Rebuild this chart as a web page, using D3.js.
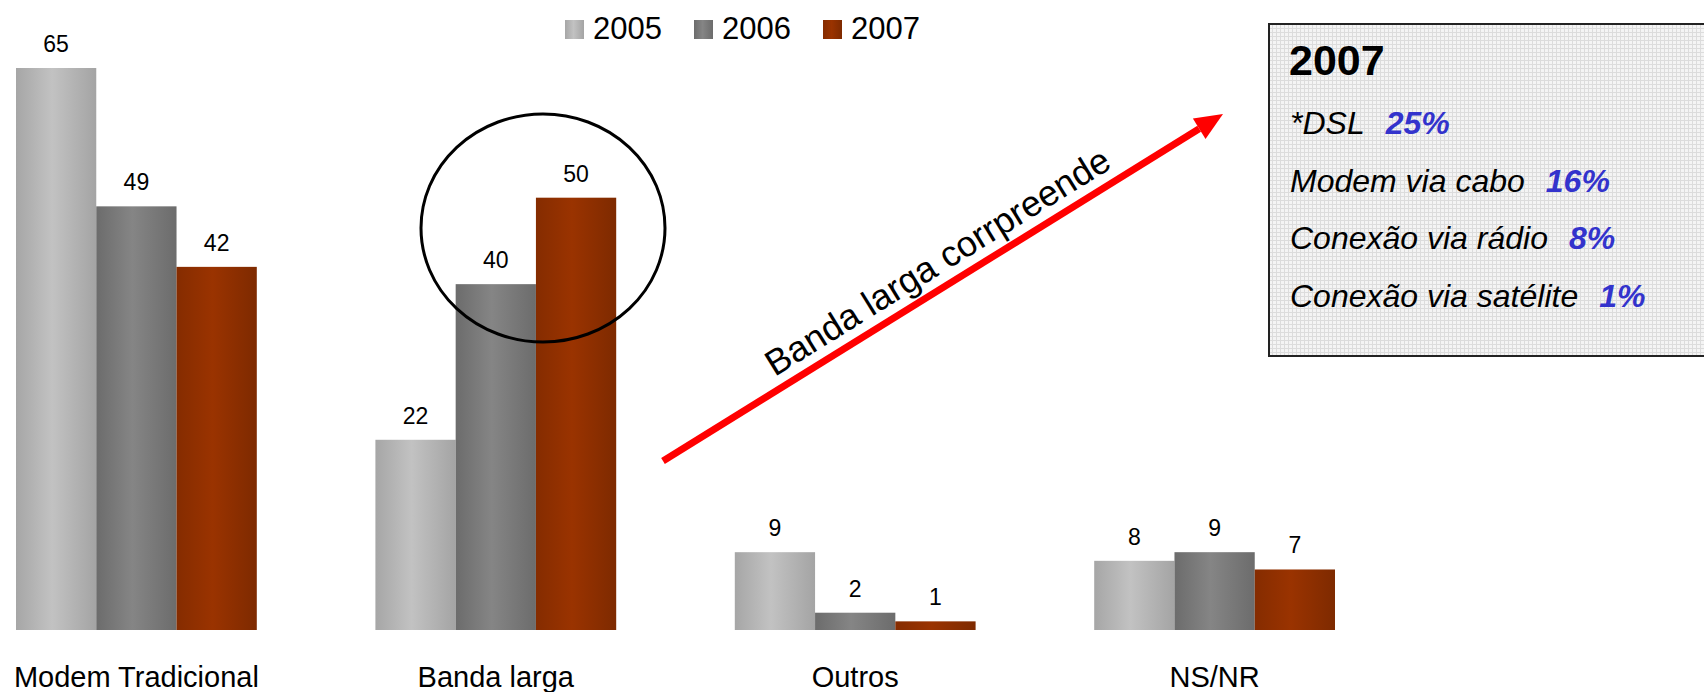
<!DOCTYPE html>
<html>
<head>
<meta charset="utf-8">
<script src="https://cdn.jsdelivr.net/npm/d3@7"></script>
<style>
  body { margin: 0; background: #fff; }
  svg { display: block; font-family: "Liberation Sans", Arial, sans-serif; }
</style>
</head>
<body>
<figure id="bar" style="margin:0"></figure>
<script>
// data
const categories = ["Modem Tradicional", "Banda larga", "Outros", "NS/NR"];
const years = ["2005", "2006", "2007"];
const values2005 = [65, 22, 9, 8];
const values2006 = [49, 40, 2, 9];
const values2007 = [42, 50, 1, 7];
const boxTitle = "2007";
const boxLabels = ["*DSL", "Modem via cabo", "Conexão via rádio", "Conexão via satélite"];
const boxValues = ["25%", "16%", "8%", "1%"];
const arrowText = "Banda larga corrpreende";

const width = 1704, height = 692;
const baseline = 630;

const svg = d3.select("figure#bar")
  .append("svg")
  .attr("width", width)
  .attr("height", height);

const defs = svg.append("defs");

// gradients for the bars (light in the middle, darker at the edges)
const gradColors = [
  ["#a6a6a6", "#c2c2c2", "#a4a4a4"],
  ["#6c6c6c", "#858585", "#6c6c6c"],
  ["#852c00", "#9a3300", "#7e2a00"]
];
gradColors.forEach((c, i) => {
  const g = defs.append("linearGradient")
    .attr("id", "grad" + i)
    .attr("x1", "0%").attr("x2", "100%").attr("y1", "0%").attr("y2", "0%");
  g.append("stop").attr("offset", "0%").attr("stop-color", c[0]);
  g.append("stop").attr("offset", "45%").attr("stop-color", c[1]);
  g.append("stop").attr("offset", "100%").attr("stop-color", c[2]);
});

// grid pattern for the note box
const pat = defs.append("pattern")
  .attr("id", "grid")
  .attr("width", 4).attr("height", 4)
  .attr("patternUnits", "userSpaceOnUse");
pat.append("rect").attr("width", 4).attr("height", 4).attr("fill", "#f4f4f4");
pat.append("rect").attr("width", 4).attr("height", 1).attr("fill", "#dcdcdc");
pat.append("rect").attr("width", 1).attr("height", 4).attr("fill", "#dcdcdc");

// scales
const x = d3.scaleBand()
  .domain(categories)
  .range([16, 1335])
  .paddingInner(0.33)
  .paddingOuter(0);

const xSub = d3.scaleBand()
  .domain(years)
  .range([0, x.bandwidth()]);

const y = d3.scaleLinear()
  .domain([0, 65])
  .range([baseline, 68]);

const series = [values2005, values2006, values2007];

// bars
series.forEach((vals, si) => {
  const g = svg.append("g");
  g.selectAll("rect")
    .data(vals)
    .enter()
    .append("rect")
    .attr("x", (d, i) => x(categories[i]) + xSub(years[si]))
    .attr("y", d => y(d))
    .attr("width", xSub.bandwidth())
    .attr("height", d => baseline - y(d))
    .attr("fill", "url(#grad" + si + ")");

  g.selectAll("text")
    .data(vals)
    .enter()
    .append("text")
    .attr("x", (d, i) => x(categories[i]) + xSub(years[si]) + xSub.bandwidth() / 2)
    .attr("y", d => y(d) - 16)
    .attr("text-anchor", "middle")
    .attr("font-size", 23)
    .attr("fill", "#000")
    .text(d => d);
});

// category labels
svg.append("g")
  .selectAll("text")
  .data(categories)
  .enter()
  .append("text")
  .attr("x", d => x(d) + x.bandwidth() / 2)
  .attr("y", 687)
  .attr("text-anchor", "middle")
  .attr("font-size", 29)
  .text(d => d);

// legend
const legend = svg.append("g").attr("transform", "translate(565,20)");
years.forEach((yr, i) => {
  const item = legend.append("g").attr("transform", "translate(" + (i * 129) + ",0)");
  item.append("rect")
    .attr("width", 19).attr("height", 19)
    .attr("fill", "url(#grad" + i + ")");
  item.append("text")
    .attr("x", 28).attr("y", 19)
    .attr("font-size", 31)
    .text(yr);
});

// ellipse around Banda larga 2006/2007
svg.append("ellipse")
  .attr("cx", 543).attr("cy", 228)
  .attr("rx", 122).attr("ry", 114)
  .attr("fill", "none")
  .attr("stroke", "#000")
  .attr("stroke-width", 3);

// red arrow
const tail = [663, 461], tip = [1223, 114];
const ang = Math.atan2(tip[1] - tail[1], tip[0] - tail[0]);
const headLen = 28, headW = 12;
const bx = tip[0] - headLen * Math.cos(ang), by = tip[1] - headLen * Math.sin(ang);
svg.append("line")
  .attr("x1", tail[0]).attr("y1", tail[1])
  .attr("x2", bx).attr("y2", by)
  .attr("stroke", "#ff0000")
  .attr("stroke-width", 7);
svg.append("path")
  .attr("d", d3.line()([
    tip,
    [bx + headW * Math.sin(ang), by - headW * Math.cos(ang)],
    [bx - headW * Math.sin(ang), by + headW * Math.cos(ang)]
  ]) + "Z")
  .attr("fill", "#ff0000");

svg.append("text")
  .attr("transform", "translate(944,272) rotate(" + (ang * 180 / Math.PI) + ")")
  .attr("text-anchor", "middle")
  .attr("font-size", 36)
  .text(arrowText);

// note box
const box = svg.append("g");
box.append("rect")
  .attr("x", 1269).attr("y", 24)
  .attr("width", 450).attr("height", 332)
  .attr("fill", "url(#grid)")
  .attr("stroke", "#222")
  .attr("stroke-width", 2);
box.append("text")
  .attr("x", 1289).attr("y", 75)
  .attr("font-size", 43)
  .attr("font-weight", "bold")
  .text(boxTitle);
boxLabels.forEach((lab, i) => {
  const t = box.append("text")
    .attr("x", 1290)
    .attr("y", 134 + i * 57.5)
    .attr("font-size", 32)
    .attr("font-style", "italic");
  t.append("tspan").text(lab);
  t.append("tspan")
    .attr("dx", 21)
    .attr("fill", "#3333cc")
    .attr("font-weight", "bold")
    .text(boxValues[i]);
});
</script>
</body>
</html>
